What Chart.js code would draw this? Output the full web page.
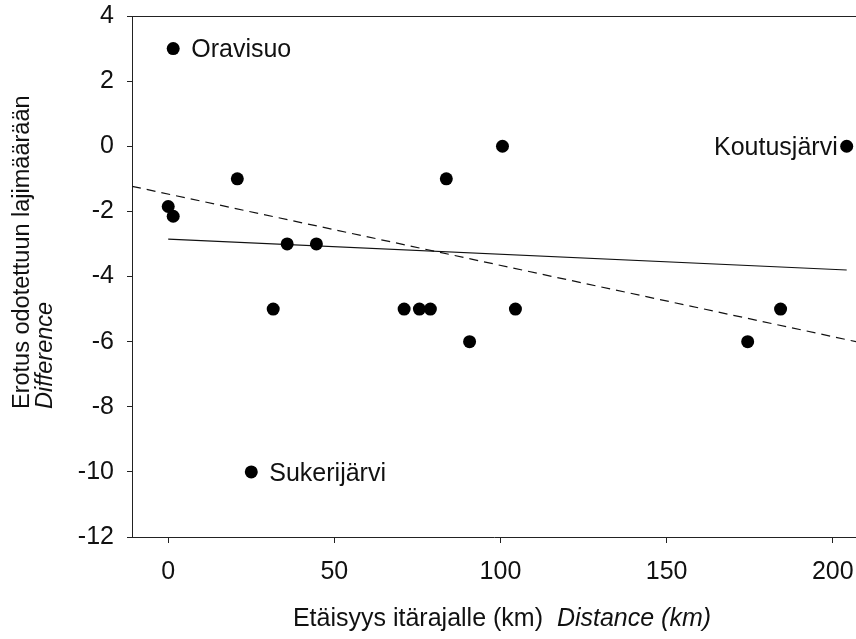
<!DOCTYPE html>
<html>
<head>
<meta charset="utf-8">
<script src="https://cdn.jsdelivr.net/npm/chart.js@4"></script>
<style>
  html, body { margin: 0; padding: 0; background: #fff; }
  #wrap { width: 856px; height: 639px; }
</style>
</head>
<body>
<div id="wrap"><canvas id="chart" width="856" height="639"></canvas></div>
<script>
// Distance to the eastern border (km) vs. difference to expected species number
const distance = [1.5, 0, 1.5, 20.8, 35.8, 44.6, 31.6, 25, 100.6, 83.7, 71, 75.6, 78.9, 104.5, 90.7, 184.3, 174.4, 204.2];
const difference = [3, -1.85, -2.15, -1, -3, -3, -5, -10, 0, -1, -5, -5, -5, -5, -6, -5, -6, 0];
const siteNames = ['Oravisuo', '', '', '', '', '', '', 'Sukerijärvi', '', '', '', '', '', '', '', '', '', 'Koutusjärvi'];

// fitted lines (end points)
const solidX = [0, 204.2];
const solidY = [-2.85, -3.8];
const dashedX = [-10.9, 207];
const dashedY = [-1.23, -6.0];

const xTicks = [0, 50, 100, 150, 200];
const yTicks = [-12, -10, -8, -6, -4, -2, 0, 2, 4];

const FONT = '"Liberation Sans", Arial, sans-serif';

const annotations = {
    id: 'annotations',
    afterDraw(chart) {
        const ctx = chart.ctx;
        const area = chart.chartArea;
        const xs = chart.scales.x;
        const ys = chart.scales.y;
        ctx.save();

        // top frame line
        ctx.strokeStyle = '#222';
        ctx.lineWidth = 1;
        ctx.beginPath();
        ctx.moveTo(area.left, area.top + 0.5);
        ctx.lineTo(chart.width, area.top + 0.5);
        ctx.stroke();

        // site labels
        ctx.fillStyle = '#111';
        ctx.font = '25px ' + FONT;
        ctx.textBaseline = 'middle';
        siteNames.forEach((name, i) => {
            if (!name) return;
            const px = xs.getPixelForValue(distance[i]);
            const py = ys.getPixelForValue(difference[i]) + 2;
            if (px > area.right - 60) {
                ctx.textAlign = 'right';
                ctx.fillText(name, px - 9, py);
            } else {
                ctx.textAlign = 'left';
                ctx.fillText(name, px + 18, py);
            }
        });

        // x axis title, second part italic
        ctx.textBaseline = 'alphabetic';
        ctx.textAlign = 'left';
        const part1 = 'Etäisyys itärajalle (km)  ';
        const part2 = 'Distance (km)';
        ctx.font = '25px ' + FONT;
        const w1 = ctx.measureText(part1).width;
        ctx.font = 'italic 25px ' + FONT;
        const w2 = ctx.measureText(part2).width;
        const startX = 502 - (w1 + w2) / 2;
        ctx.font = '25px ' + FONT;
        ctx.fillText(part1, startX, 626);
        ctx.font = 'italic 25px ' + FONT;
        ctx.fillText(part2, startX + w1, 626);

        // y axis title, two lines
        ctx.translate(0, 409);
        ctx.rotate(-Math.PI / 2);
        ctx.font = '23.5px ' + FONT;
        ctx.fillText('Erotus odotettuun lajimäärään', 0, 29);
        ctx.font = 'italic 23.5px ' + FONT;
        ctx.fillText('Difference', 0, 52);

        ctx.restore();
    }
};

new Chart(document.getElementById('chart'), {
    type: 'scatter',
    data: {
        datasets: [
            {
                label: 'sites',
                data: distance.map((x, i) => ({ x: x, y: difference[i] })),
                backgroundColor: '#000',
                borderColor: '#000',
                pointRadius: 6.5,
                pointBorderWidth: 0,
                clip: false,
                order: 1
            },
            {
                type: 'line',
                label: 'solid',
                data: solidX.map((x, i) => ({ x: x, y: solidY[i] })),
                borderColor: '#111',
                borderWidth: 1.2,
                pointRadius: 0,
                fill: false,
                order: 2
            },
            {
                type: 'line',
                label: 'dashed',
                data: dashedX.map((x, i) => ({ x: x, y: dashedY[i] })),
                borderColor: '#111',
                borderWidth: 1.2,
                borderDash: [9, 6],
                pointRadius: 0,
                fill: false,
                order: 3
            }
        ]
    },
    options: {
        responsive: false,
        animation: false,
        layout: { autoPadding: false, padding: { top: 16, right: 0, left: 0, bottom: 0 } },
        plugins: {
            legend: { display: false },
            tooltip: { enabled: false }
        },
        scales: {
            x: {
                type: 'linear',
                min: -10.9,
                max: 207,
                afterBuildTicks: (scale) => { scale.ticks = xTicks.map(v => ({ value: v })); },
                afterFit: (scale) => {
                    scale.height = 102;
                    scale.paddingLeft = 0;
                    scale.paddingRight = 0;
                },
                border: { display: true, color: '#222', width: 1 },
                grid: { drawOnChartArea: false, drawTicks: true, tickLength: 6, color: '#222' },
                ticks: { color: '#111', font: { family: FONT, size: 25 }, padding: 14, maxRotation: 0 }
            },
            y: {
                type: 'linear',
                min: -12,
                max: 4,
                afterBuildTicks: (scale) => { scale.ticks = yTicks.map(v => ({ value: v })); },
                afterFit: (scale) => {
                    scale.width = 132;
                    scale.paddingTop = 0;
                    scale.paddingBottom = 0;
                },
                border: { display: true, color: '#222', width: 1 },
                grid: { drawOnChartArea: false, drawTicks: true, tickLength: 5, color: '#222' },
                ticks: { color: '#111', font: { family: FONT, size: 25 }, padding: 13 }
            }
        }
    },
    plugins: [annotations]
});
</script>
</body>
</html>
